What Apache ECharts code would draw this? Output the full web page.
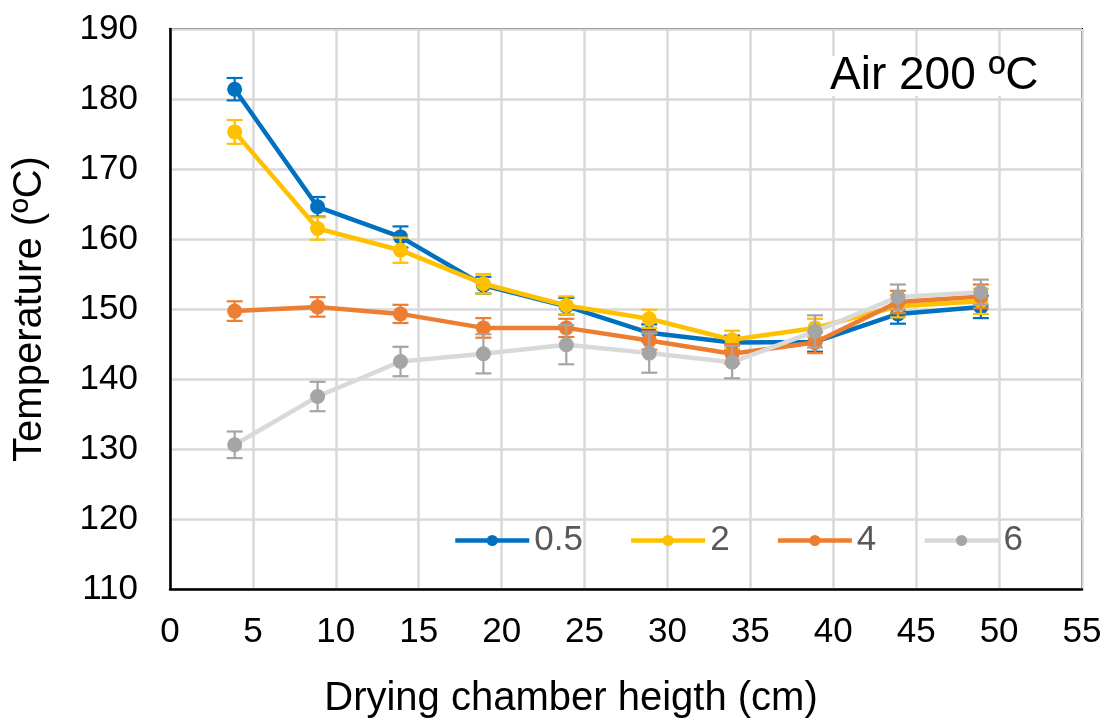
<!DOCTYPE html>
<html>
<head>
<meta charset="utf-8">
<script src="https://cdn.jsdelivr.net/npm/echarts@6/dist/echarts.min.js"></script>
<style>
  html, body { margin: 0; padding: 0; background: #fff; }
  #main { width: 1107px; height: 724px; }
</style>
</head>
<body>
<div id="main"></div>
<script>
// 数据：干燥室高度 (cm) 与温度 (ºC)
const heights = [3.9, 8.9, 13.9, 18.9, 23.9, 28.9, 33.9, 38.9, 43.9, 48.9];
const seriesNames = ["0.5", "2", "4", "6"];
const temp05 = [181.4, 164.6, 160.3, 153.4, 150.4, 146.6, 145.2, 145.3, 149.3, 150.3];
const temp2 = [175.3, 161.5, 158.4, 153.6, 150.5, 148.6, 145.6, 147.3, 150.4, 151.1];
const temp4 = [149.7, 150.3, 149.3, 147.3, 147.3, 145.5, 143.6, 145.2, 151.0, 151.8];
const temp6 = [130.6, 137.5, 142.5, 143.6, 144.9, 143.7, 142.4, 146.8, 151.7, 152.4];
const err05 = [1.6, 1.4, 1.5, 1.2, 1.2, 1.2, 1.0, 1.4, 1.4, 1.6];
const err2 = [1.7, 1.6, 1.8, 1.4, 1.3, 1.3, 1.3, 1.3, 1.6, 1.8];
const err4 = [1.4, 1.4, 1.3, 1.4, 1.3, 1.3, 1.4, 1.5, 1.6, 1.7];
const err6 = [1.9, 2.1, 2.1, 2.8, 2.8, 2.8, 2.3, 2.3, 1.8, 1.8];

const FONT = "Liberation Sans, Arial, sans-serif";
const lineColors = ["#0070c0", "#ffc000", "#ed7d31", "#d9d9d9"];
const markColors = ["#0070c0", "#ffc000", "#ed7d31", "#a5a5a5"];
const allTemps = [temp05, temp2, temp4, temp6];
const allErrs = [err05, err2, err4, err6];

// 误差线（带端帽）
function errorBarItem(color) {
  return function (params, api) {
    const x = api.value(0);
    const lo = api.coord([x, api.value(1)]);
    const hi = api.coord([x, api.value(2)]);
    const w = 8;
    const st = { stroke: color, lineWidth: 2.2 };
    return {
      type: "group",
      children: [
        { type: "line", shape: { x1: lo[0], y1: lo[1], x2: hi[0], y2: hi[1] }, style: st },
        { type: "line", shape: { x1: lo[0] - w, y1: lo[1], x2: lo[0] + w, y2: lo[1] }, style: st },
        { type: "line", shape: { x1: hi[0] - w, y1: hi[1], x2: hi[0] + w, y2: hi[1] }, style: st }
      ]
    };
  };
}

const series = [];
seriesNames.forEach((name, i) => {
  const t = allTemps[i];
  const e = allErrs[i];
  series.push({
    name: name,
    type: "line",
    data: heights.map((h, k) => [h, t[k]]),
    symbol: "circle",
    symbolSize: 15,
    lineStyle: { color: lineColors[i], width: 4.5 },
    itemStyle: { color: markColors[i] },
    z: 3 + i * 2
  });
  series.push({
    name: name + " err",
    type: "custom",
    renderItem: errorBarItem(markColors[i]),
    data: heights.map((h, k) => [h, t[k] - e[k], t[k] + e[k]]),
    encode: { x: 0, y: [1, 2] },
    z: 2 + i * 2,
    silent: true
  });
});

const chart = echarts.init(document.getElementById("main"));
chart.setOption({
  animation: false,
  backgroundColor: "#fff",
  grid: {
    left: 170, right: 25, top: 29, bottom: 135,
    outerBoundsMode: "none", containLabel: false,
    show: true, borderColor: "#000", borderWidth: 2
  },
  legend: {
    data: seriesNames,
    left: 448, top: 518,
    itemWidth: 74, itemHeight: 14, itemGap: 46,
    lineStyle: { width: 4.5 },
    textStyle: { color: "#595959", fontSize: 35, fontFamily: FONT }
  },
  xAxis: {
    type: "value", min: 0, max: 55, interval: 5,
    name: "Drying chamber heigth (cm)", nameLocation: "middle", nameGap: 90,
    nameTextStyle: { color: "#000", fontSize: 40, fontFamily: FONT, padding: [0, 110, 0, 0] },
    axisLine: { lineStyle: { color: "#000", width: 2.5 } },
    axisTick: { show: false },
    axisLabel: { color: "#000", fontSize: 35, fontFamily: FONT, margin: 26 },
    splitLine: { show: true, lineStyle: { color: "#d9d9d9", width: 2.5 } }
  },
  yAxis: {
    type: "value", min: 110, max: 190, interval: 10,
    name: "Temperature (ºC)", nameLocation: "middle", nameGap: 120,
    nameTextStyle: { color: "#000", fontSize: 40, fontFamily: FONT },
    axisLine: { show: true, lineStyle: { color: "#000", width: 2.5 } },
    axisTick: { show: false },
    axisLabel: { color: "#000", fontSize: 35, fontFamily: FONT, margin: 32 },
    splitLine: { show: true, lineStyle: { color: "#d9d9d9", width: 2.5 } }
  },
  graphic: [{
    type: "text", x: 824, y: 76, z: 100,
    style: {
      text: "Air 200 ºC", font: "46px " + FONT, fill: "#000",
      verticalAlign: "middle", lineHeight: 40,
      backgroundColor: "#fff", padding: [0, 8, 0, 6]
    }
  }],
  series: series
});
</script>
</body>
</html>
